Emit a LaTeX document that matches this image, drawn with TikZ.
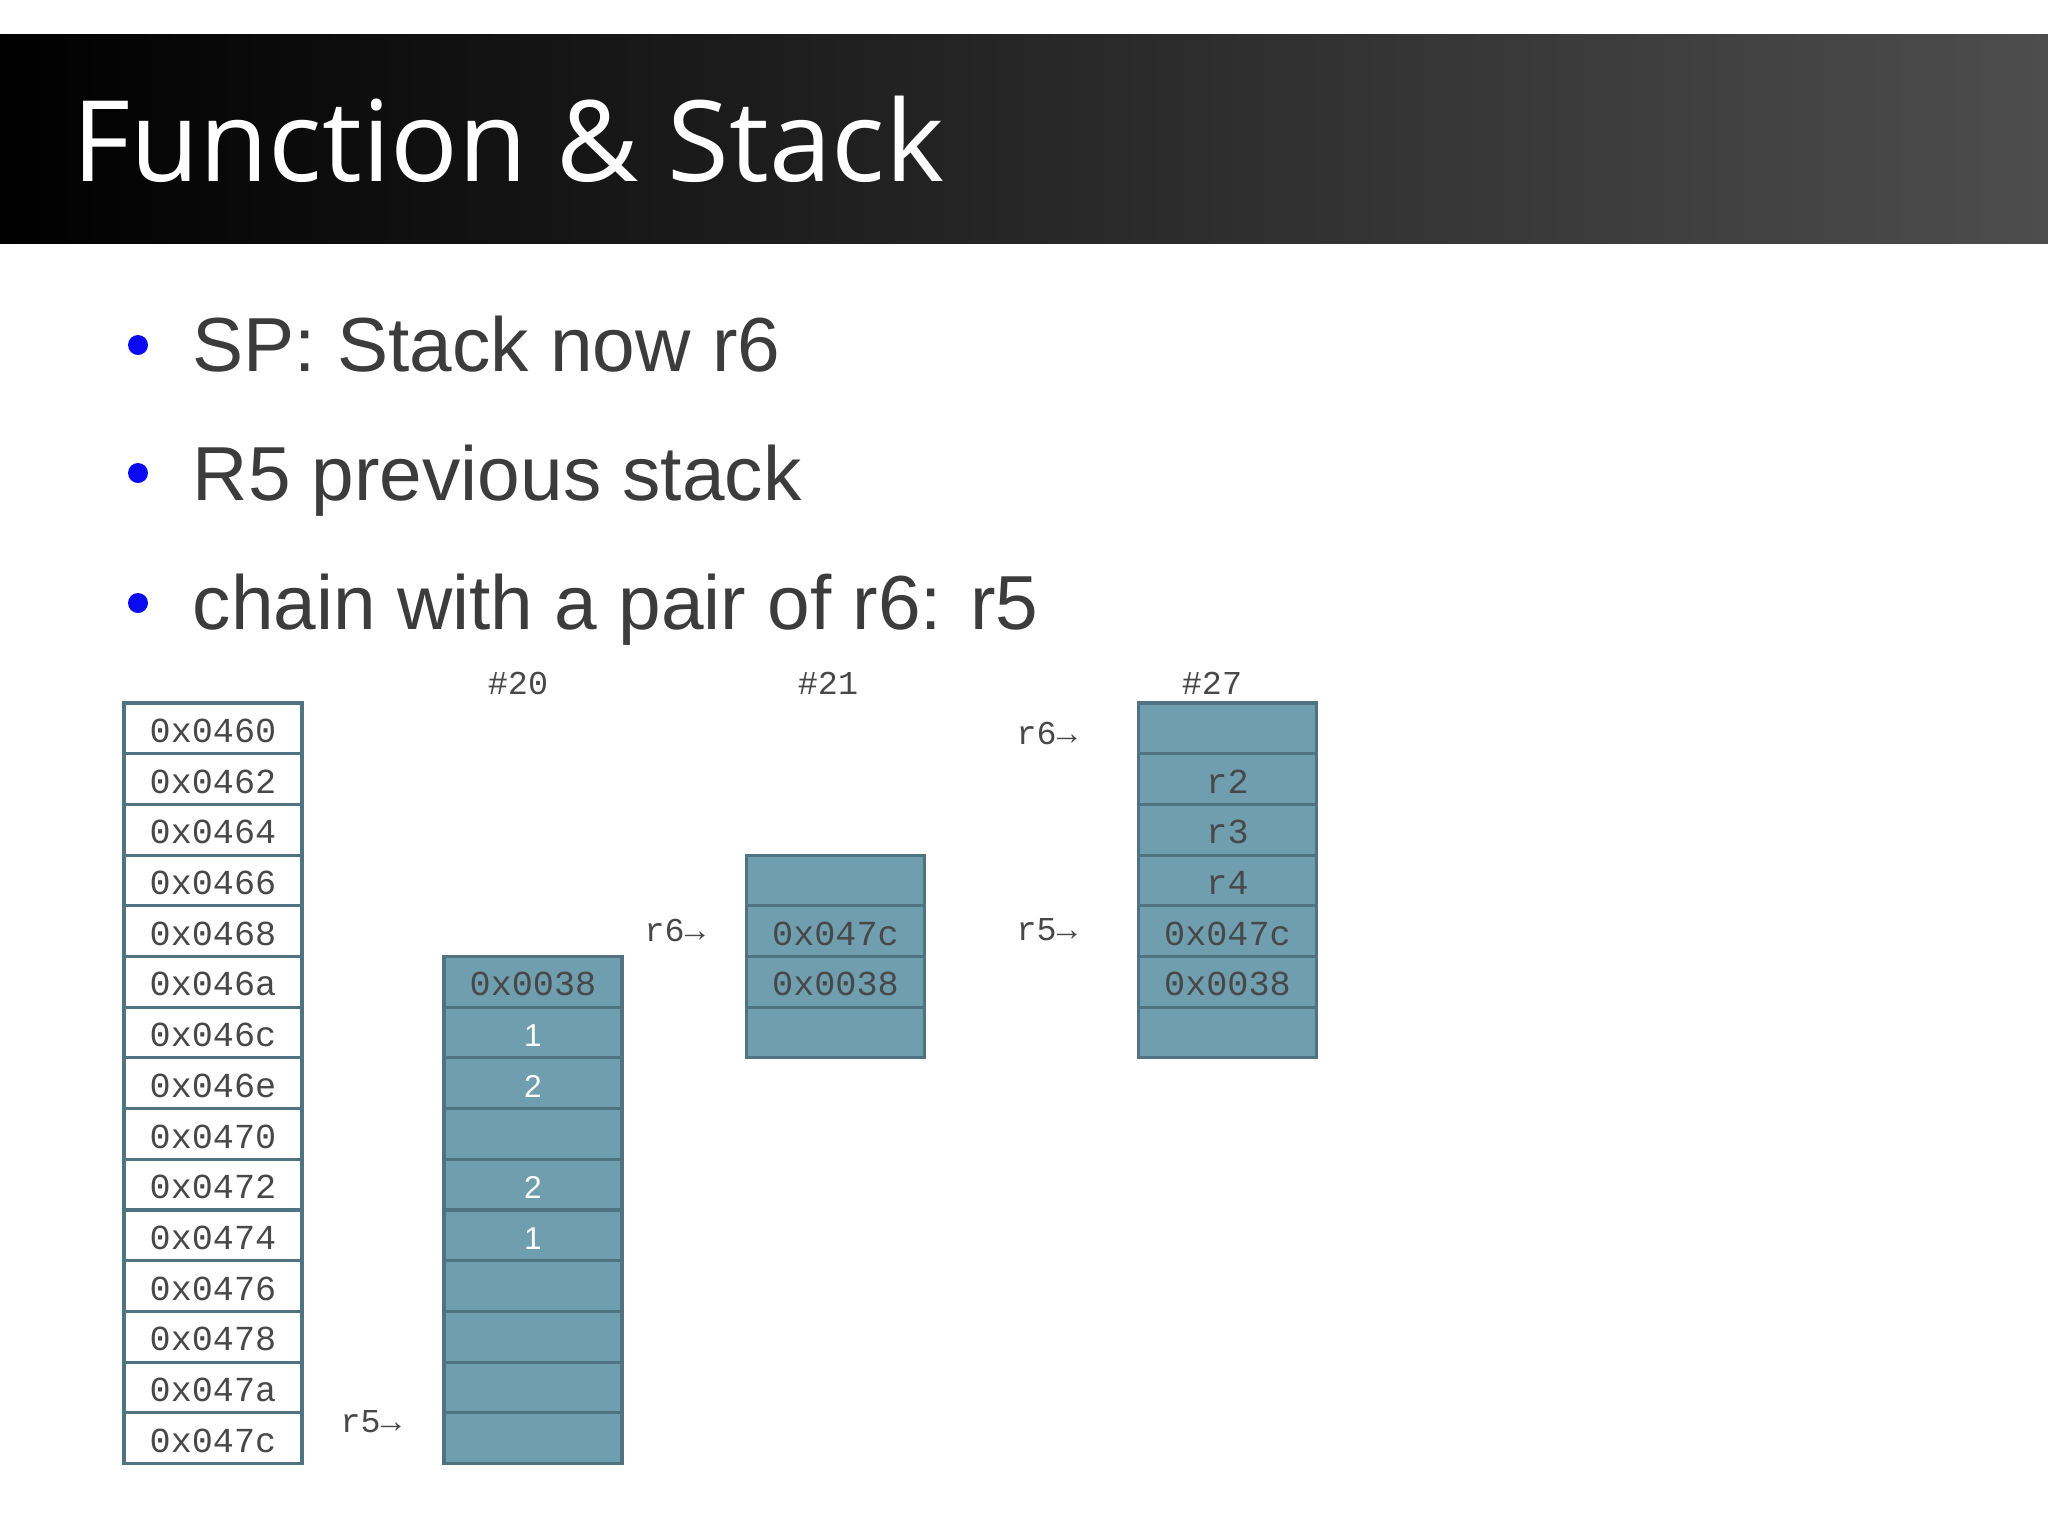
\documentclass[tikz,border=0pt]{standalone}
\usepackage{fontspec}
\usetikzlibrary{positioning}
\newfontfamily\titlefont{Open Sans}
\newfontfamily\bodyfont{Liberation Sans}
\newfontfamily\monofont{Liberation Mono}
\definecolor{cellline}{HTML}{4F7381}
\definecolor{stackfill}{HTML}{6F9FAE}
\definecolor{textgray}{HTML}{3C3C3C}
\definecolor{monogray}{HTML}{484848}
\definecolor{bulletblue}{HTML}{0A0AF0}
\definecolor{barright}{HTML}{4D4D4D}
\tikzset{
  memcell/.style={rectangle,draw=cellline,fill=white,line width=0.9pt,minimum width=1.78cm,minimum height=0.507cm,inner sep=0pt,text height=0.8em,text depth=0pt,font=\monofont\fontsize{10}{12}\selectfont,text=monogray},
  stackcell/.style={memcell,fill=stackfill},
  numcell/.style={stackcell,font=\bodyfont\fontsize{9}{11}\selectfont,text=white},
  ptrlabel/.style={font=\monofont\fontsize{9.5}{11}\selectfont,text=monogray,inner sep=0pt},
  bullettext/.style={font=\bodyfont\fontsize{21.8}{26}\selectfont,text=textgray,anchor=base west,inner sep=0pt}
}
\begin{document}
\begin{tikzpicture}
\useasboundingbox (0,0) rectangle (20.48,-15.35);
\fill[white] (0,0) rectangle (20.48,-15.35);
\shade[left color=black,right color=barright] (0,-0.34) rectangle (20.48,-2.43);
\node[font=\titlefont\fontsize{32}{38}\selectfont,text=white,anchor=base west,inner sep=0pt] (title) at (0.72,-1.81) {Function \& Stack};

\fill[bulletblue] (1.38,-3.45) circle (0.10);
\node[bullettext] (b1) at (1.92,-3.71) {SP: Stack now r6};
\fill[bulletblue] (1.38,-4.73) circle (0.10);
\node[bullettext] (b2) at (1.92,-5.00) {R5 previous stack};
\fill[bulletblue] (1.38,-6.03) circle (0.10);
\node[bullettext] (b3) at (1.92,-6.29) {chain with a pair of r6: r5};

% memory addresses
\foreach \addr [count=\i] in {0460,0462,0464,0466,0468,046a,046c,046e,0470,0472,0474,0476,0478,047a,047c}
  \node[memcell] (mem\i) at (2.13,{-7.03-(\i-0.5)*0.507}) {0x\addr};

% stack at #20
\foreach \sty/\val [count=\i from 6] in {stackcell/0x0038,numcell/1,numcell/2,stackcell/{},numcell/2,numcell/1,stackcell/{},stackcell/{},stackcell/{},stackcell/{}}
  \node[\sty] (sa\i) at (5.33,{-7.03-(\i-0.5)*0.507}) {\val};

% stack at #21
\foreach \val [count=\i from 4] in {{},0x047c,0x0038,{}}
  \node[stackcell] (sb\i) at (8.355,{-7.03-(\i-0.5)*0.507}) {\val};

% stack at #27
\foreach \val [count=\i] in {{},r2,r3,r4,0x047c,0x0038,{}}
  \node[stackcell] (sc\i) at (12.275,{-7.03-(\i-0.5)*0.507}) {\val};

\node[ptrlabel] (stepa) at (5.18,-6.83) {\#20};
\node[ptrlabel] (stepb) at (8.28,-6.83) {\#21};
\node[ptrlabel] (stepc) at (12.12,-6.83) {\#27};

\node[ptrlabel,anchor=west] (fpa) at (3.40,-14.22) {r5→};
\node[ptrlabel,anchor=west] (spb) at (6.44,-9.30) {r6→};
\node[ptrlabel,anchor=west] (spc) at (10.16,-7.33) {r6→};
\node[ptrlabel,anchor=west] (fpc) at (10.16,-9.30) {r5→};
\end{tikzpicture}
\end{document}
